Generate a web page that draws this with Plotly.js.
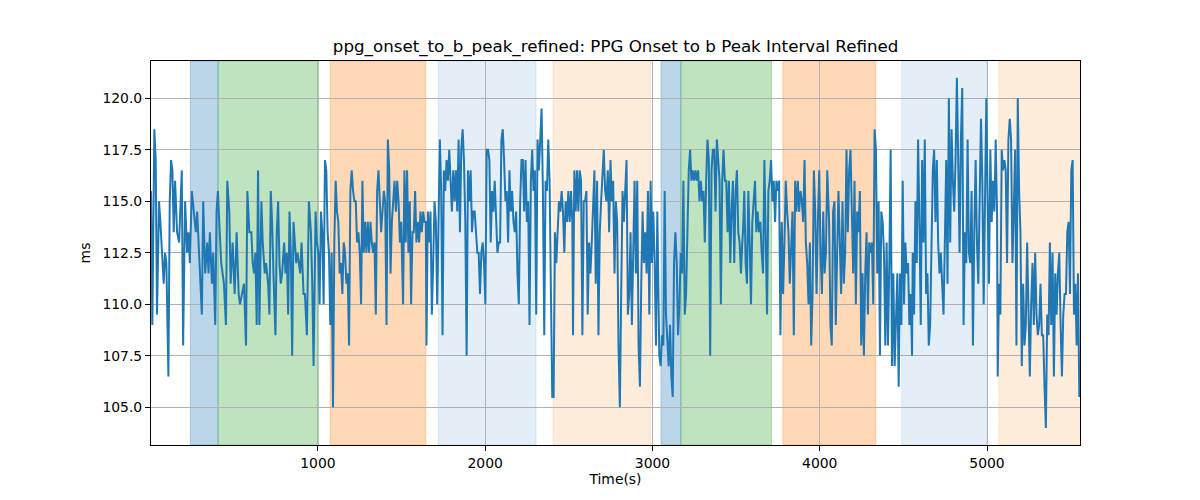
<!DOCTYPE html>
<html>
<head>
<meta charset="utf-8">
<script src="https://cdn.plot.ly/plotly-3.0.1.min.js"></script>
<style>
  html, body { margin: 0; padding: 0; background: #ffffff; }
  #chart { width: 1200px; height: 500px; }
</style>
</head>
<body>
<div id="chart"></div>
<script>
// Refined PPG onset to b-peak interval
const timeSec = [
  2, 10, 22, 30, 38, 50, 58, 66, 78, 86, 94, 106, 114, 122, 130, 138, 146, 158, 170, 186,
  194, 206, 218, 226, 234, 246, 258, 270, 278, 290, 298, 306, 314, 326, 338, 346, 354, 366, 374, 386,
  394, 402, 410, 422, 438, 450, 458, 470, 478, 490,
  502, 514, 526, 534, 546, 558, 570, 578, 590, 602, 610, 618, 626, 634, 642, 650, 662, 670, 682, 690,
  702, 710, 718, 726, 734, 746, 754, 762, 770, 778, 786, 798, 806, 814, 822, 830, 838, 846, 854, 862,
  870, 878, 886, 894, 902, 914, 922, 934, 946, 958, 966, 974, 986, 994,
  1002, 1010, 1018, 1026, 1034, 1042, 1050, 1058, 1066, 1074, 1082, 1090, 1098, 1106, 1114, 1122, 1130, 1138, 1146, 1154,
  1162, 1170, 1178, 1186, 1194, 1202, 1210, 1218, 1226, 1234, 1242, 1250, 1258, 1266, 1274, 1282, 1290, 1298, 1306, 1314,
  1322, 1330, 1338, 1346, 1354, 1362, 1370, 1378, 1386, 1394, 1402, 1410, 1418, 1426, 1434, 1442, 1450, 1458, 1466, 1474,
  1482, 1490, 1498,
  1509, 1517, 1525, 1533, 1541, 1549, 1557, 1565, 1573, 1581, 1589, 1597, 1605, 1613, 1621, 1629, 1637, 1645, 1649, 1657,
  1665, 1673, 1681, 1689, 1697, 1705, 1713, 1721, 1729, 1737, 1745, 1753, 1761, 1769, 1777, 1785, 1793, 1801, 1809, 1817,
  1825, 1833, 1841, 1849, 1857, 1865, 1873, 1881, 1889, 1897, 1905, 1913, 1921, 1929, 1937, 1945, 1953, 1961, 1969, 1977,
  1985, 1993, 2001, 2009,
  2017, 2025, 2033, 2041, 2049, 2057, 2065, 2073, 2081, 2089, 2097, 2105, 2113, 2121, 2129, 2137, 2145, 2153, 2161, 2169,
  2177, 2185, 2193, 2201, 2209, 2217, 2225, 2233, 2241, 2249, 2257, 2265, 2273, 2281, 2289, 2297, 2305, 2313, 2321, 2329,
  2337, 2345, 2353, 2361, 2369, 2377, 2385, 2393, 2401, 2409, 2417, 2425, 2433, 2441, 2449, 2457, 2465, 2473, 2481, 2489,
  2497, 2505, 2513, 2521,
  2525, 2533, 2541, 2549, 2557, 2565, 2573, 2581, 2589, 2597, 2605, 2613, 2621, 2629, 2637, 2645, 2653, 2661, 2669, 2677,
  2685, 2693, 2701, 2709, 2717, 2725, 2733, 2741, 2749, 2757, 2765, 2773, 2781, 2789, 2797, 2805, 2813, 2821, 2829, 2837,
  2845, 2853, 2861, 2869, 2877, 2885, 2893, 2901, 2909, 2917, 2925, 2933, 2941, 2949, 2957, 2965, 2973, 2981, 2989, 2997,
  3005, 3013, 3021, 3029,
  3041, 3049, 3057, 3065, 3073, 3081, 3089, 3097, 3105, 3113, 3121, 3129, 3137, 3145, 3153, 3161, 3169, 3177, 3185, 3193,
  3201, 3209, 3217, 3225, 3233, 3241, 3249, 3257, 3265, 3273, 3281, 3289, 3297, 3305, 3313, 3321, 3329, 3337, 3345, 3353,
  3361, 3369, 3377, 3385, 3393, 3401, 3409, 3417, 3425, 3433, 3441, 3449, 3457, 3465, 3473, 3481, 3489, 3497, 3505, 3513,
  3521, 3529, 3537,
  3541, 3549, 3557, 3565, 3573, 3581, 3589, 3597, 3605, 3613, 3621, 3629, 3637, 3645, 3653, 3661, 3669, 3677, 3685, 3693,
  3701, 3709, 3717, 3725, 3733, 3741, 3749, 3757, 3765, 3773, 3781, 3789, 3797, 3805, 3813, 3821, 3829, 3837, 3845, 3853,
  3861, 3869, 3877, 3885, 3893, 3901, 3909, 3917, 3925, 3933, 3941, 3949, 3957, 3965, 3973, 3981, 3989, 3997, 4005, 4013,
  4021, 4029, 4037, 4045,
  4056, 4064, 4072, 4080, 4088, 4096, 4104, 4112, 4120, 4128, 4136, 4144, 4152, 4160, 4168, 4176, 4184, 4192, 4200, 4208,
  4216, 4224, 4232, 4240, 4248, 4256, 4264, 4272, 4280, 4288, 4296, 4304, 4312, 4320, 4328, 4336, 4344, 4352, 4360, 4368,
  4376, 4384, 4392, 4400, 4408, 4416, 4424, 4432, 4440, 4448, 4456, 4464, 4472, 4480, 4488, 4496, 4504, 4512, 4520, 4528,
  4536, 4544, 4552,
  4556, 4564, 4572, 4580, 4588, 4596, 4604, 4612, 4620, 4628, 4636, 4644, 4652, 4660, 4668, 4676, 4684, 4692, 4700, 4708,
  4716, 4724, 4732, 4740, 4748, 4756, 4764, 4772, 4780, 4788, 4796, 4804, 4812, 4820, 4828, 4836, 4844, 4852, 4860, 4868,
  4876, 4884, 4892, 4900, 4908, 4916, 4924, 4932, 4940, 4948, 4956, 4964, 4972, 4980, 4988, 4996, 5004, 5012, 5020, 5028,
  5036, 5044, 5052, 5060,
  5064, 5072, 5080, 5088, 5096, 5104, 5112, 5120, 5128, 5136, 5144, 5152, 5160, 5168, 5176, 5184, 5192, 5200, 5208, 5216,
  5224, 5232, 5240, 5248, 5256, 5264, 5272, 5280, 5288, 5296, 5304, 5312, 5320, 5328, 5336, 5344, 5352, 5360, 5368, 5376,
  5384, 5392, 5400, 5408, 5416, 5424, 5432, 5440, 5448, 5456, 5464, 5472, 5480, 5488, 5496, 5504, 5512, 5520, 5528, 5536,
  5544, 5552
];
const intervalMs = [
  115.5, 109, 118.5, 117, 109.5, 115, 114, 113, 111, 112.5, 112, 106.5, 115, 117, 116.5, 113.5, 116, 113.5, 113, 116.5,
  108, 115, 112.5, 113.5, 112, 115.5, 114.5, 113.5, 114.5, 112, 111, 109.5, 115, 111.5, 113, 111.5, 113.5, 111, 112.5, 109,
  114.5, 115.5, 114, 112, 111, 109, 116, 114.5, 111, 113,
  110.5, 113.5, 110.5, 110, 110.5, 111, 108, 115.5, 113.5, 113.5, 112, 111.5, 112.5, 109, 116.5, 109, 115, 113, 111.5, 112,
  111, 109.5, 115.5, 114, 111.5, 108.5, 113.5, 115, 112, 111, 111.5, 113, 111.5, 112.5, 109.5, 114.5, 112.5, 107.5, 114, 113,
  112, 112.5, 112, 111.5, 113, 110.5, 110.5, 108.5, 115, 113.5, 111, 107, 114.5, 113,
  112.5, 110, 114.5, 113.5, 110, 117, 116.5, 113.5, 112.5, 109, 112.5, 105, 113, 116, 114.5, 114, 111.5, 112, 110.5, 113,
  112.5, 111, 111.5, 108, 115.5, 116.5, 115.5, 115, 115, 113, 113.5, 112.5, 110, 116, 112.5, 114, 112.5, 114, 112.5, 114,
  113, 112.5, 113, 109.5, 115.5, 116.5, 115, 113.5, 114.5, 115.5, 115, 109, 118, 116.5, 111.5, 114, 115, 116, 114.5, 116,
  115, 113, 114,
  110, 116.5, 113, 116.5, 112.5, 115, 110, 113.5, 113.5, 115.5, 113, 114, 113, 114.5, 113.5, 114.5, 114, 114, 108, 114.5,
  113, 114.5, 109.5, 112, 115, 114, 110, 114, 118, 115.5, 108.5, 116.5, 115.5, 117, 116, 117.5, 116, 114.5, 116.5, 115,
  116.5, 114.5, 118, 113.5, 117.5, 118.5, 117, 114, 107.5, 116.5, 115, 116.5, 113.5, 114.5, 114.5, 113.5, 112.5, 112.5, 110.5, 112.5,
  113, 112, 110, 117.5,
  117.5, 117, 113, 115.5, 114.5, 116, 114.5, 112.5, 113, 113, 118, 118.5, 117, 115, 115.5, 113, 116.5, 114.5, 115.5, 114,
  113.5, 114.5, 111.5, 110, 115, 117, 117, 114.5, 117, 114, 115, 109, 116, 117.5, 115.5, 116.5, 109.5, 118, 116.5, 118,
  119.5, 115.5, 108.5, 116, 115.5, 118, 116, 110.5, 105.5, 105.5, 113.5, 112, 113.5, 115, 114.5, 115.5, 114.5, 112.5, 115, 114,
  115.5, 114, 115.5, 114,
  108.5, 116.5, 114.5, 116.5, 114.5, 116.5, 116, 108.5, 115, 115, 115.5, 109.5, 113, 111.5, 113, 114.5, 116.5, 111, 116, 108.5,
  113.5, 115, 116.5, 117.5, 115.5, 115, 116.5, 113.5, 117, 115, 116, 111.5, 115, 114, 108, 105, 110.5, 115.5, 114, 115.5,
  117, 109.5, 110.5, 113.5, 109, 112.5, 116, 111.5, 116, 108, 106, 111, 114.5, 112, 113.5, 111.5, 115.5, 109.5, 116, 112,
  114.5, 112, 108, 114.5,
  107.5, 107, 108.5, 108, 115.5, 109.5, 108.5, 107, 109, 106.5, 105.5, 112, 113.5, 112, 108.5, 110, 112.5, 111.5, 116, 109.5,
  110.5, 114, 116.5, 117.5, 116, 116.5, 116, 116.5, 116, 116.5, 115, 116, 115, 115.5, 113, 116, 118, 117, 107.5, 116.5,
  117.5, 117.5, 114.5, 118, 117, 116, 110, 116, 117.5, 116, 116, 113.5, 116, 112, 114.5, 116, 112, 115.5, 116.5, 113.5,
  113, 111.5, 113,
  113.5, 115.5, 112, 111, 115.5, 113, 110, 114, 115, 116, 113.5, 114.5, 113.5, 114, 112.5, 111.5, 117, 113.5, 109.5, 115.5,
  116, 117, 115, 116, 114, 116, 115.5, 116, 108.5, 114, 110.5, 113, 116, 114.5, 113.5, 111, 112.5, 114.5, 108.5, 116,
  114.5, 116, 114.5, 115.5, 115, 114, 117, 113, 112, 110, 113, 108, 110.5, 116.5, 114.5, 110.5, 114, 116.5, 112.5, 110.5,
  114.5, 111.5, 112.5, 116.5,
  114, 109, 108, 114.5, 115, 109, 112.5, 115.5, 113, 110.5, 115, 111, 112.5, 117.5, 113.5, 116.5, 117.5, 113.5, 111.5, 116,
  110, 114.5, 113.5, 115.5, 108, 111.5, 107.5, 111.5, 113.5, 109.5, 113, 112.5, 113, 110, 118.5, 117.5, 111.5, 115, 107.5, 114.5,
  114, 112.5, 108, 113, 108, 112, 117.5, 107, 111.5, 107, 109.5, 111.5, 106, 111.5, 109, 116, 110, 113, 111.5, 112,
  109, 110.5, 107.5,
  112.5, 109.5, 115, 112, 118, 114, 109, 117, 113, 118, 110.5, 111.5, 108, 109, 113, 116.5, 117.5, 114, 117, 113,
  111.5, 112.5, 111, 109.5, 113, 117, 111, 120, 113, 118.5, 116, 114.5, 117, 121, 117, 112.5, 118, 120.5, 109, 113.5,
  112, 118, 112.5, 112, 115.5, 108, 113.5, 117, 113, 111, 115, 119, 116, 110, 115, 120, 115, 111, 117.5, 114,
  116, 114.5, 118, 114.5,
  106.5, 111, 109.5, 117.5, 116.5, 117, 116.5, 112, 118, 119, 118, 112, 114.5, 117.5, 108, 120, 115.5, 113.5, 107, 111,
  108, 109, 113, 109, 106.5, 110, 112, 109, 112.5, 109.5, 108.5, 109, 111, 108.5, 108.5, 106, 104, 109.5, 108.5, 113,
  109, 112.5, 106.5, 111.5, 109.5, 111.5, 112.5, 109, 106.5, 109.5, 110.5, 110.5, 113.5, 114, 110.5, 116.5, 117, 109.5, 111, 108,
  111.5, 105.5
];

// Shaded segments: start, end, colour
const spanStart = [237, 403, 1073, 1719, 2406, 3051, 3170, 3780, 4490, 5070];
const spanEnd = [403, 1004, 1645, 2304, 2989, 3170, 3712, 4335, 4998, 5570];
const spanColor = [
  'rgba(31,119,180,0.3)', 'rgba(44,160,44,0.3)', 'rgba(255,127,14,0.3)', 'rgba(31,119,180,0.12)', 'rgba(255,127,14,0.15)',
  'rgba(31,119,180,0.3)', 'rgba(44,160,44,0.3)', 'rgba(255,127,14,0.3)', 'rgba(31,119,180,0.12)', 'rgba(255,127,14,0.15)'
];

const yTicks = [105, 107.5, 110, 112.5, 115, 117.5, 120];
const xTicks = [1000, 2000, 3000, 4000, 5000];

const font = { family: 'DejaVu Sans, sans-serif', color: '#000000' };

const shapes = spanStart.map((s, i) => ({
  type: 'rect', xref: 'x', yref: 'paper',
  x0: s, x1: spanEnd[i], y0: 0, y1: 1,
  fillcolor: spanColor[i],
  line: { width: 1, color: spanColor[i] },
  layer: 'below',
}));

Plotly.newPlot('chart', [
  {
    x: timeSec,
    y: intervalMs,
    type: 'scatter',
    mode: 'lines',
    line: { color: '#1f77b4', width: 2 },
    hoverinfo: 'x+y',
  },
], {
  width: 1200,
  height: 500,
  showlegend: false,
  title: {
    text: 'ppg_onset_to_b_peak_refined: PPG Onset to b Peak Interval Refined',
    font: { ...font, size: 16.7 },
    x: 0.513, xanchor: 'center',
    y: 0.908, yanchor: 'middle',
  },
  xaxis: {
    title: { text: 'Time(s)', font: { ...font, size: 13.9 }, standoff: 4 },
    range: [2, 5556],
    tickvals: xTicks,
    ticktext: xTicks.map(String),
    ticks: 'outside', ticklen: 5, tickwidth: 1, tickcolor: '#000',
    tickfont: { ...font, size: 13.9 },
    showgrid: true, gridcolor: '#b0b0b0', gridwidth: 1,
    showline: true, linecolor: '#000', linewidth: 1, mirror: true,
    zeroline: false,
  },
  yaxis: {
    title: { text: 'ms', font: { ...font, size: 13.9 }, standoff: 8 },
    range: [103.17, 121.81],
    tickvals: yTicks,
    ticktext: yTicks.map(v => v.toFixed(1)),
    ticks: 'outside', ticklen: 5, tickwidth: 1, tickcolor: '#000',
    tickfont: { ...font, size: 13.9 },
    showgrid: true, gridcolor: '#b0b0b0', gridwidth: 1,
    showline: true, linecolor: '#000', linewidth: 1, mirror: true,
    zeroline: false,
  },
  shapes: shapes,
  margin: { l: 151, r: 120, t: 61, b: 55 },
  paper_bgcolor: '#ffffff',
  plot_bgcolor: '#ffffff',
}, { displayModeBar: false });
</script>
</body>
</html>
